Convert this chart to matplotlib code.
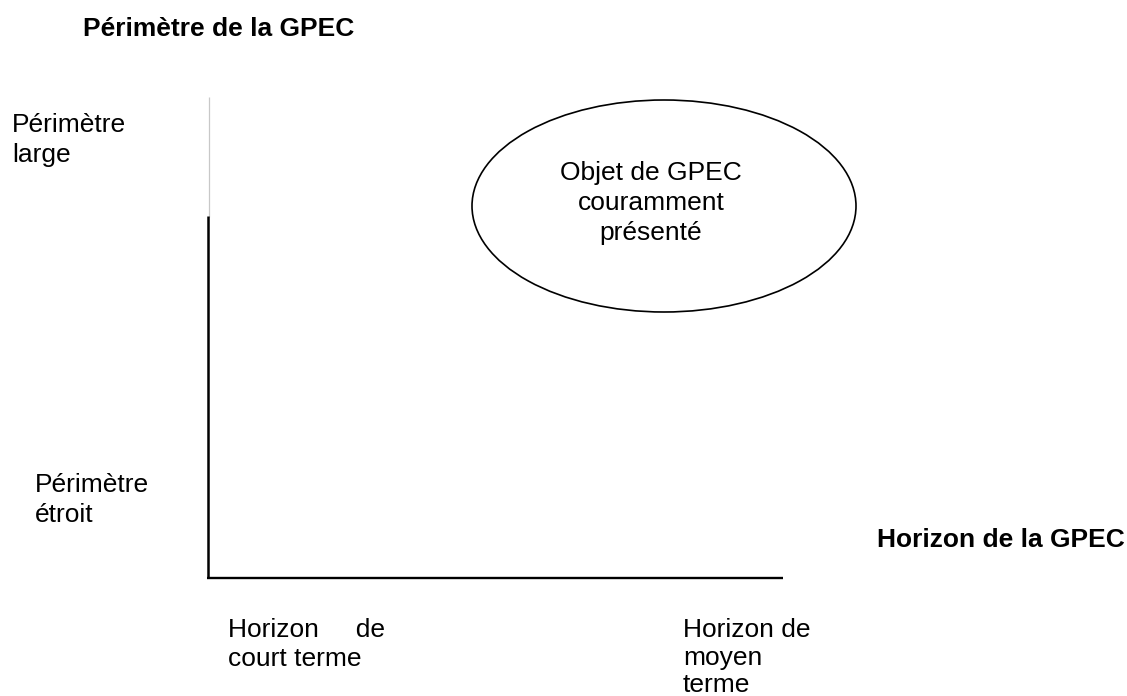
import matplotlib
matplotlib.use("Agg")
import matplotlib.pyplot as plt
from matplotlib.patches import Ellipse

# Textes du schéma
titre_vertical = "Périmètre de la GPEC"
titre_horizontal = "Horizon de la GPEC"
perimetre_large = ["Périmètre", "large"]
perimetre_etroit = ["Périmètre", "étroit"]
horizon_court = ["Horizon     de", "court terme"]
horizon_moyen = ["Horizon de", "moyen", "terme"]
texte_ellipse = ["Objet de GPEC", "couramment", "présenté"]

LARGEUR, HAUTEUR = 1127, 696
TAILLE = 19
INTERLIGNE = 30

plt.rcParams['font.family'] = ['Liberation Sans', 'DejaVu Sans']

fig = plt.figure(figsize=(LARGEUR / 100, HAUTEUR / 100), dpi=100)
ax = fig.add_axes([0, 0, 1, 1])
ax.set_xlim(0, LARGEUR)
ax.set_ylim(HAUTEUR, 0)
ax.axis('off')


def lignes(x, y, textes, ha='left', poids='normal', interligne=INTERLIGNE):
    # une ligne de texte par entrée, y = ligne de base de la premiere
    for i, t in enumerate(textes):
        ax.text(x, y + i * interligne, t, ha=ha, va='baseline',
                fontsize=TAILLE, fontweight=poids, color='black')


# Axes du schéma
ax.plot([208.5, 208.5], [97, 217], color='#c8c8c8', lw=0.9, solid_capstyle='butt')
ax.plot([207.5, 207.5], [216, 578], color='black', lw=1.8, solid_capstyle='butt')
ax.plot([206.5, 783], [577.5, 577.5], color='black', lw=1.7, solid_capstyle='butt')

# Ellipse
ax.add_patch(Ellipse((664, 206), 384, 212, fill=False, edgecolor='black', lw=1.2))
lignes(651, 180, texte_ellipse, ha='center')

# Libellés
lignes(83, 36, [titre_vertical], poids='bold')
lignes(877, 547, [titre_horizontal], poids='bold')
lignes(12, 132, perimetre_large)
lignes(35, 492, perimetre_etroit)
lignes(228, 637, horizon_court, interligne=28.5)
lignes(683, 637, horizon_moyen, interligne=27.5)

fig.savefig('out.png', dpi=100)
